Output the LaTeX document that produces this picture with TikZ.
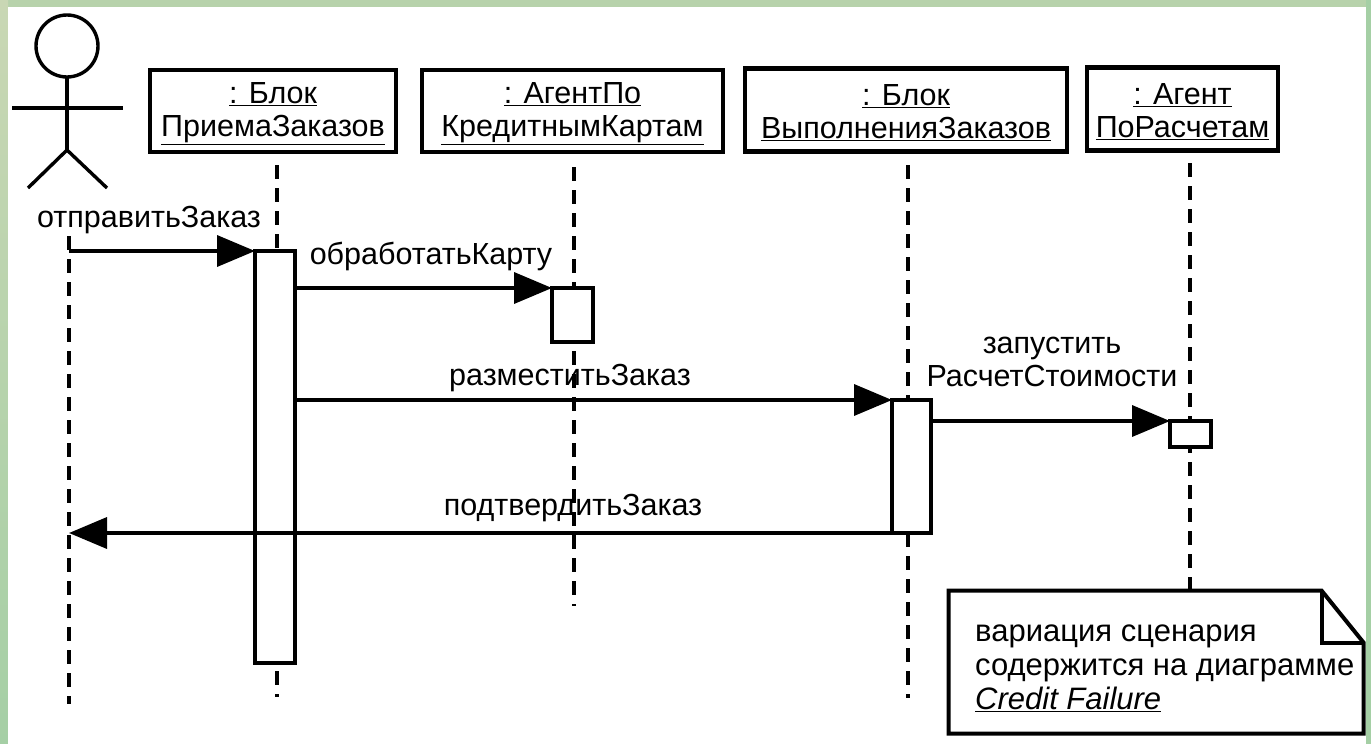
\documentclass[tikz,border=0pt]{standalone}
\usepackage{fontspec}
\setmainfont{Liberation Sans}
\usetikzlibrary{arrows.meta,calc}
\definecolor{marble}{HTML}{B7D2AB}
\definecolor{marbleB}{HTML}{A5CFA5}
\definecolor{marbleT}{HTML}{C9D7B4}
\tikzset{
  x=1pt,y=-1pt,
  objbox/.style={draw=black,fill=white,line width=4.5pt,inner sep=0pt,outer sep=0pt},
  objtext/.style={inner sep=0pt,align=center,font=\fontsize{30.5}{33}\selectfont},
  activation/.style={draw=black,fill=white,line width=4pt,inner sep=0pt,outer sep=0pt},
  lifeline/.style={line width=4.5pt,dash pattern=on 14pt off 9pt},
  message/.style={line width=3.6pt,-{Triangle[length=38pt,width=31pt]}},
  msglabel/.style={inner sep=0pt,font=\fontsize{30.5}{33}\selectfont,align=center},
  actorline/.style={line width=3.4pt},
  notetxt/.style={inner sep=0pt,align=left,anchor=north west,font=\fontsize{31}{34}\selectfont},
}
\begin{document}
\begin{tikzpicture}
\useasboundingbox (0,0) rectangle (1371,744);
\shade[left color=marbleT,right color=marbleB,shading angle=0] (0,0) rectangle (1371,744);
\fill[marble] (0,0) rectangle (1371,8);
\shade[top color=marbleT,bottom color=marbleB] (0,0) rectangle (8,744);
\fill[marbleB] (1366,0) rectangle (1371,744);
\fill[white] (8,7) rectangle (1366,744);

% object boxes
\node[objbox,minimum width=246pt,minimum height=82pt] (b1) at (273,111) {};
\node[objbox,minimum width=301pt,minimum height=82pt] (b2) at (572.5,111) {};
\node[objbox,minimum width=322pt,minimum height=83pt] (b3) at (906,110) {};
\node[objbox,minimum width=191pt,minimum height=83pt] (b4) at (1182.5,109) {};
\node[objtext,yshift=-3pt] (t1) at (b1.center) {\underline{: Блок}\\\underline{ПриемаЗаказов}};
\node[objtext,yshift=-3pt] (t2) at (b2.center) {\underline{: АгентПо}\\\underline{КредитнымКартам}};
\node[objtext,yshift=-3pt] (t3) at (b3.center) {\underline{: Блок}\\\underline{ВыполненияЗаказов}};
\node[objtext,yshift=-3pt] (t4) at (b4.center) {\underline{: Агент}\\\underline{ПоРасчетам}};

% actor
\draw[actorline] (67,46) ellipse [x radius=31,y radius=31];
\coordinate (neck) at (67,77);
\coordinate (hip) at (67,150);
\draw[actorline] (neck) -- (hip);
\draw[actorline] (12,108) -- (123,108);
\draw[actorline] (hip) -- (28,188);
\draw[actorline] (hip) -- (107,188);

% note frame
\node[inner sep=0pt,outer sep=0pt,minimum width=415pt,minimum height=143pt] (note) at (1156,662) {};

% lifeline ends
\coordinate (a0t) at (69,236);
\coordinate (a0b) at (69,704);
\coordinate (l1t) at (277,165);
\coordinate (l1b) at (277,697);
\coordinate (l2t) at (574,167);
\coordinate (l2b) at (574,606);
\coordinate (l3t) at (908,165);
\coordinate (l3b) at (908,698);
\coordinate (l4t) at (1190,163);

\draw[lifeline] (a0t) -- (a0b);
\draw[lifeline] (l1t) -- (l1b);
\draw[lifeline] (l2t) -- (l2b);
\draw[lifeline] (l3t) -- (l3b);
\draw[lifeline] (l4t) -- (note.north -| l4t);

% activations
\node[activation,anchor=north west,minimum width=40pt,minimum height=412pt] (a1) at (255,251) {};
\node[activation,anchor=north west,minimum width=41pt,minimum height=54pt] (a2) at (552,288) {};
\node[activation,anchor=north west,minimum width=39pt,minimum height=133pt] (a3) at (892,400) {};
\node[activation,anchor=north west,minimum width=41pt,minimum height=26pt] (a4) at (1170,421) {};

% note
\draw[draw=black,fill=white,line width=4pt,line join=miter]
  (note.north west) -- ($(note.north east)+(-42,0)$) -- ($(note.north east)+(0,52)$) -- (note.south east) -- (note.south west) -- cycle;
\draw[line width=4pt] ($(note.north east)+(-42,0)$) -- ($(note.north east)+(-42,52)$) -- ($(note.north east)+(0,52)$);
\node[notetxt] (nt) at (975,625) {вариация сценария\\содержится на диаграмме\\\underline{\itshape Credit Failure}};

% messages
\draw[message] (a0t |- a1.north west) -- (a1.north west);
\draw[message] (a1.east |- a2.north west) -- (a2.north west);
\draw[message] (a1.east |- a3.north west) -- (a3.north west);
\draw[message] (a3.east |- a4.north west) -- (a4.north west);
\draw[message] (a3.south east) -- (a3.south east -| a0t);

% labels
\node[msglabel] (m1) at (149,220) {отправитьЗаказ};
\node[msglabel] (m2) at (431,256) {обработатьКарту};
\node[msglabel] (m3) at (570,378) {разместитьЗаказ};
\node[msglabel] (m4) at (1052,362) {запустить\\РасчетСтоимости};
\node[msglabel] (m5) at (573,508) {подтвердитьЗаказ};
\end{tikzpicture}
\end{document}
